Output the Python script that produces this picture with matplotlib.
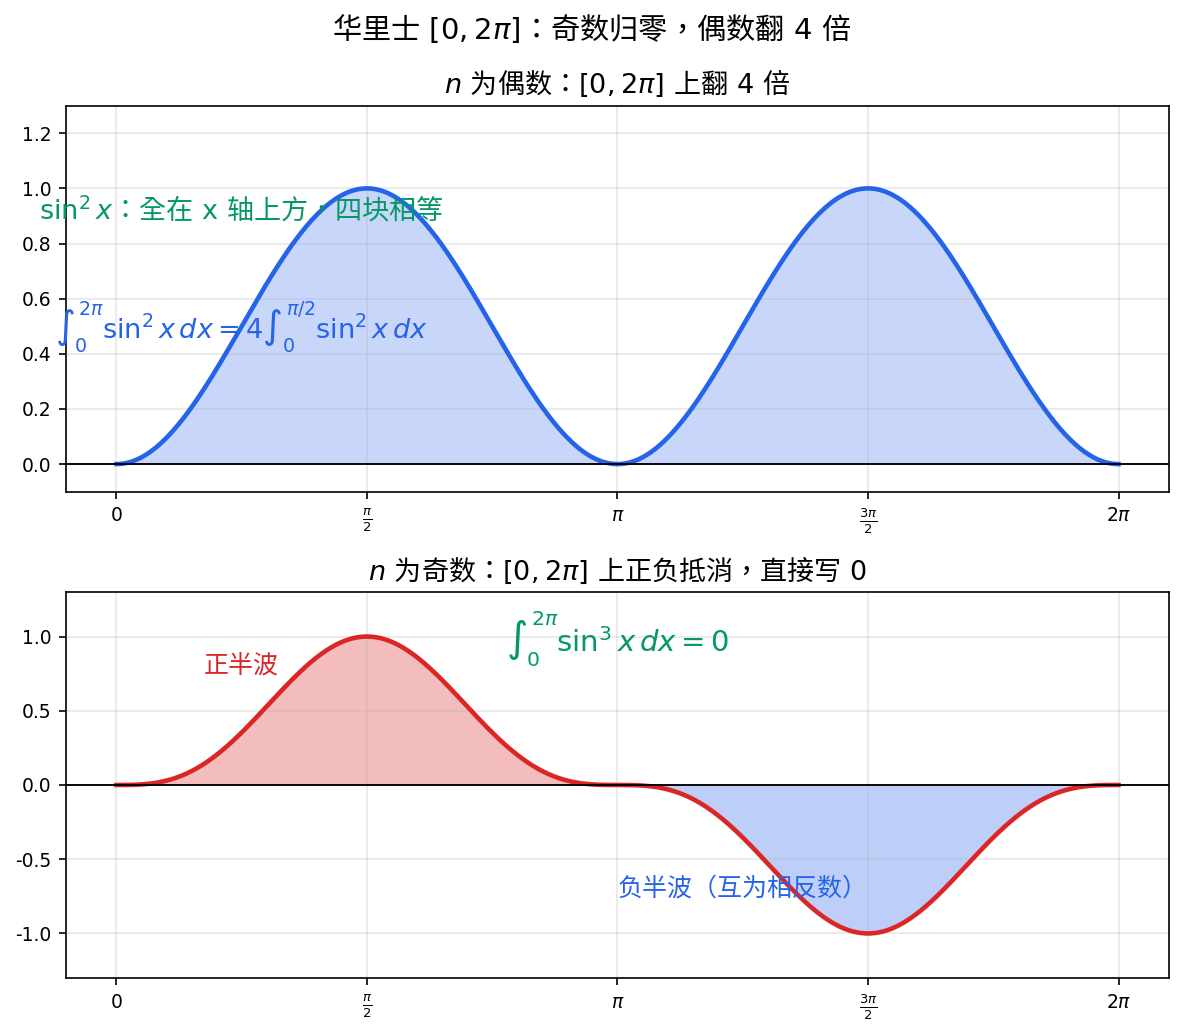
import numpy as np
import matplotlib
matplotlib.use('Agg')
import matplotlib.pyplot as plt

plt.rcParams['font.family'] = ['DejaVu Sans', 'Noto Sans CJK TC']
plt.rcParams['axes.unicode_minus'] = False
CJK = 'Noto Sans CJK TC'

# 曲线：sin^n x，n = 2（偶数）与 n = 3（奇数）
n_even = 2
n_odd = 3
x_start, x_end = 0, 2 * np.pi
xticks = [0, np.pi / 2, np.pi, 3 * np.pi / 2, 2 * np.pi]
xtick_labels = ['0', r'$\frac{\pi}{2}$', r'$\pi$', r'$\frac{3\pi}{2}$', r'$2\pi$']
yticks_top = [0.0, 0.2, 0.4, 0.6, 0.8, 1.0, 1.2]
yticks_bottom = [-1.0, -0.5, 0.0, 0.5, 1.0]

blue = '#2563eb'
red = '#dc2626'
green = '#059669'

x = np.linspace(x_start, x_end, 600)
y_even = np.sin(x) ** n_even
y_odd = np.sin(x) ** n_odd

fig, (ax1, ax2) = plt.subplots(2, 1, figsize=(1184 / 150, 1036 / 150), dpi=150)
fig.subplots_adjust(left=0.056, right=0.987, top=0.898, bottom=0.056, hspace=0.26)
fig.suptitle(r'华里士$\ [0,2\pi]$：奇数归零，偶数翻$\ 4\ $倍', fontsize=14, y=0.987,
             family=CJK)

# 上图：偶数
ax1.plot(x, y_even, color=blue, lw=2.2)
ax1.fill_between(x, 0, y_even, color=blue, alpha=0.25, lw=0)
ax1.axhline(0, color='black', lw=0.9)
ax1.set_ylim(-0.1, 1.3)
ax1.set_yticks(yticks_top)
ax1.set_title(r'$n\ $为偶数：$[0,2\pi]\ $上翻$\ 4\ $倍', fontsize=13, family=CJK)
ax1.text(np.pi / 4, 0.92, r'$\sin^2 x$：全在$\ \mathrm{x}\ $轴上方，四块相等',
         color=green, fontsize=13, ha='center', va='center', family=CJK)
ax1.text(np.pi / 4, 0.5, r'$\int_0^{2\pi}\sin^2 x\,dx = 4\int_0^{\pi/2}\sin^2 x\,dx$',
         color=blue, fontsize=13, ha='center', va='center')

# 下图：奇数
ax2.plot(x, y_odd, color=red, lw=2.2)
ax2.fill_between(x, 0, y_odd, where=y_odd >= 0, color=red, alpha=0.3, lw=0)
ax2.fill_between(x, 0, y_odd, where=y_odd <= 0, color=blue, alpha=0.3, lw=0)
ax2.axhline(0, color='black', lw=0.9)
ax2.set_ylim(-1.3, 1.3)
ax2.set_yticks(yticks_bottom)
ax2.set_title(r'$n\ $为奇数：$[0,2\pi]\ $上正负抵消，直接写$\ 0$', fontsize=13, family=CJK)
ax2.text(np.pi / 4, 0.8, '正半波', color=red, fontsize=12, ha='center', va='center')
ax2.text(5 * np.pi / 4, -0.7, '负半波（互为相反数）', color=blue, fontsize=12,
         ha='center', va='center')
ax2.text(np.pi, 0.98, r'$\int_0^{2\pi}\sin^3 x\,dx = 0$', color=green, fontsize=14,
         ha='center', va='center')

for ax in (ax1, ax2):
    ax.set_xticks(xticks)
    ax.set_xticklabels(xtick_labels)
    ax.grid(True, alpha=0.3)
    ax.tick_params(labelsize=9)

fig.savefig('out.png', dpi=150)
